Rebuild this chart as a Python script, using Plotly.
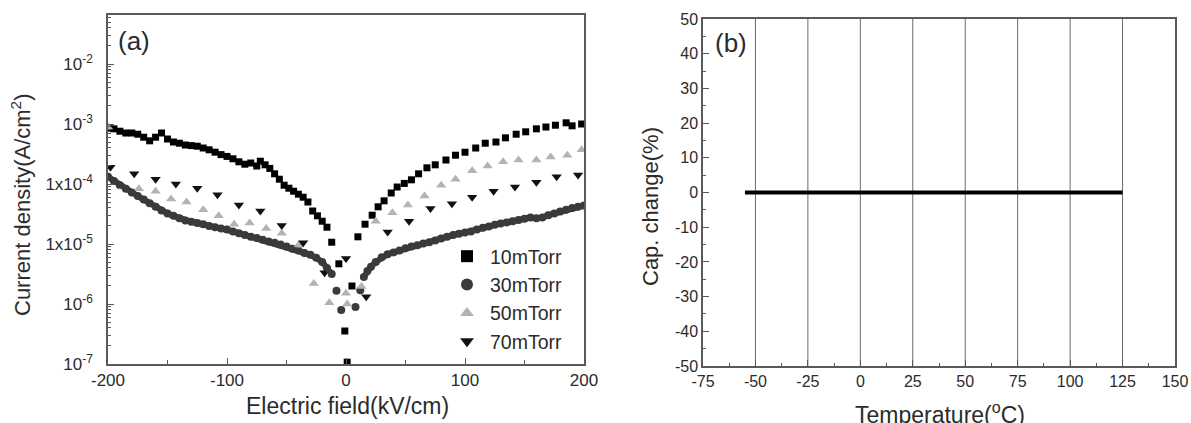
import plotly.graph_objects as go

# ---------------- Panel (a) data: electric field (kV/cm) vs log10 current density ----------------
E_10 = [-200, -195, -190, -185, -180, -175, -170, -165, -160, -155, -150, -145, -140, -135, -130,
        -125, -120, -115, -110, -105, -100, -95, -90, -85, -80, -75, -72, -68, -64, -60, -56, -52,
        -48, -44, -40, -36, -32, -28, -24, -20, -16, -12, -6, -1, 1, 5, 10, 16, 22, 27, 32, 38, 43,
        49, 55, 61, 68, 75, 84, 92, 100, 109, 117, 126, 134, 143, 151, 160, 168, 176, 185, 190, 198]
logJ_10 = [-3.07, -3.08, -3.12, -3.15, -3.15, -3.17, -3.22, -3.28, -3.22, -3.15, -3.25, -3.30, -3.32,
           -3.35, -3.36, -3.37, -3.40, -3.43, -3.47, -3.51, -3.54, -3.58, -3.63, -3.67, -3.65, -3.70,
           -3.62, -3.68, -3.74, -3.83, -3.92, -4.02, -4.07, -4.12, -4.17, -4.22, -4.30, -4.45, -4.53,
           -4.62, -4.72, -4.97, -5.33, -6.45, -6.97, -5.70, -4.88, -4.67, -4.52, -4.38, -4.28, -4.15,
           -4.05, -3.99, -3.93, -3.83, -3.73, -3.68, -3.60, -3.52, -3.47, -3.40, -3.32, -3.30, -3.23,
           -3.17, -3.13, -3.08, -3.05, -3.02, -2.98, -3.03, -3.00]

E_30 = [-200, -195, -190, -185, -180, -175, -170, -165, -160, -155, -150, -145, -140, -135, -130,
        -125, -120, -115, -110, -105, -100, -95, -90, -85, -80, -75, -70, -65, -60, -55, -50, -45,
        -40, -35, -30, -25, -20, -16, -12, -8, -4, 8, 12, 15, 18, 21, 25, 30, 35, 40, 45, 50, 55,
        60, 65, 70, 75, 80, 85, 90, 95, 100, 105, 110, 115, 120, 125, 130, 135, 140, 145, 150, 155,
        160, 165, 170, 175, 180, 185, 190, 195, 200]
logJ_30 = [-3.88, -3.95, -4.02, -4.08, -4.14, -4.20, -4.26, -4.32, -4.38, -4.44, -4.49, -4.53, -4.57,
           -4.61, -4.63, -4.65, -4.67, -4.70, -4.72, -4.74, -4.76, -4.79, -4.82, -4.85, -4.88, -4.90,
           -4.93, -4.96, -4.98, -5.01, -5.04, -5.08, -5.11, -5.15, -5.18, -5.23, -5.30, -5.40, -5.50,
           -5.78, -6.10, -6.05, -5.77, -5.55, -5.45, -5.38, -5.30, -5.22, -5.17, -5.14, -5.11, -5.07,
           -5.04, -5.02, -4.99, -4.97, -4.94, -4.91, -4.88, -4.85, -4.83, -4.81, -4.79, -4.76, -4.73,
           -4.71, -4.68, -4.66, -4.64, -4.62, -4.60, -4.58, -4.56, -4.57, -4.56, -4.52, -4.49, -4.46,
           -4.43, -4.40, -4.38, -4.36]

E_50 = [-200, -187, -174, -160, -147, -134, -120, -107, -94, -81, -67, -54, -40, -27, -14, 0, 1, 13,
        25, 39, 52, 66, 80, 92, 106, 119, 132, 145, 160, 172, 186, 198]
logJ_50 = [-3.05, -4.05, -4.08, -4.12, -4.25, -4.30, -4.43, -4.53, -4.67, -4.65, -4.74, -4.82, -5.02,
           -5.66, -5.98, -5.82, -6.00, -5.71, -4.62, -4.48, -4.35, -4.20, -4.02, -3.92, -3.78, -3.70,
           -3.63, -3.60, -3.60, -3.55, -3.52, -3.43]

E_70 = [-198, -178, -160, -143, -125, -108, -90, -72, -54, -36, -18, 0, 17, 35, 53, 71, 89, 106, 124,
        142, 160, 177, 195]
logJ_70 = [-3.72, -3.83, -3.92, -4.00, -4.07, -4.18, -4.35, -4.45, -4.69, -4.98, -5.48, -5.24, -5.88,
           -4.80, -4.62, -4.41, -4.33, -4.22, -4.12, -4.05, -3.97, -3.88, -3.85]

# ---------------- Panel (b) data ----------------
temperature = [-55, -25, 0, 25, 50, 75, 100, 125]
cap_change = [0, 0, 0, 0, 0, 0, 0, 0]

# tick labels
xa_ticks = [-200, -100, 0, 100, 200]
xa_text = ["-200", "-100", "0", "100", "200"]
ya_ticks = [1e-7, 1e-6, 1e-5, 1e-4, 1e-3, 1e-2]
ya_text = ["10<sup>-7</sup>", "10<sup>-6</sup>", "1x10<sup>-5</sup>", "1x10<sup>-4</sup>",
           "10<sup>-3</sup>", "10<sup>-2</sup>"]
xb_ticks = [-75, -50, -25, 0, 25, 50, 75, 100, 125, 150]
xb_text = ["-75", "-50", "-25", "0", "25", "50", "75", "100", "125", "150"]
yb_ticks = [-50, -40, -30, -20, -10, 0, 10, 20, 30, 40, 50]
yb_text = ["-50", "-40", "-30", "-20", "-10", "0", "10", "20", "30", "40", "50"]

FONT = "Arial, Liberation Sans, sans-serif"
TXT = "#2b2b2b"
AX = "#5a5a5a"

fig = go.Figure()

series = [
    ("10mTorr", E_10, logJ_10, "square", "#000000", 7),
    ("30mTorr", E_30, logJ_30, "circle", "#3a3a3a", 8),
    ("50mTorr", E_50, logJ_50, "triangle-up", "#b3b3b3", 9),
    ("70mTorr", E_70, logJ_70, "triangle-down", "#111111", 9),
]
for name, x, ly, sym, col, sz in series:
    fig.add_trace(go.Scatter(
        x=x, y=[10 ** v for v in ly], mode="markers", name=name,
        marker=dict(symbol=sym, color=col, size=sz, line=dict(width=0)),
        xaxis="x", yaxis="y"))

# the densely sampled 30mTorr branches appear as a continuous thick band
for sel in (lambda e: e <= -12, lambda e: e >= 15):
    xs = [e for e in E_30 if sel(e)]
    ys = [10 ** v for e, v in zip(E_30, logJ_30) if sel(e)]
    fig.add_trace(go.Scatter(x=xs, y=ys, mode="lines", showlegend=False, hoverinfo="skip",
                             line=dict(color="#3a3a3a", width=6), xaxis="x", yaxis="y"))

fig.add_trace(go.Scatter(
    x=temperature, y=cap_change, mode="lines", showlegend=False,
    line=dict(color="#000000", width=4), xaxis="x2", yaxis="y2"))

# minor tick positions for log axis
minor_vals = []
for d in range(-7, -1):
    for k in range(2, 10):
        minor_vals.append(k * 10.0 ** d)
minor_vals += [k * 1e-2 for k in range(2, 7)]

common = dict(showgrid=False, zeroline=False, showline=True, linecolor=AX, linewidth=1.5,
              mirror=True, ticks="inside", tickcolor=AX, tickwidth=1.2, automargin=False,
              tickmode="array")

fig.update_layout(
    width=1191, height=423,
    margin=dict(l=0, r=0, t=0, b=0, autoexpand=False),
    paper_bgcolor="white", plot_bgcolor="white",
    font=dict(family=FONT, color=TXT),
    xaxis=dict(domain=[108 / 1191, 584 / 1191], range=[-200, 200],
               tickvals=xa_ticks, ticktext=xa_text, ticklen=6,
               tickfont=dict(family=FONT, size=17, color=TXT),
               minor=dict(tickvals=[-150, -50, 50, 150], ticks="inside", ticklen=4,
                          tickcolor=AX, showgrid=False),
               anchor="y", **common),
    yaxis=dict(domain=[(423 - 364) / 423, (423 - 15) / 423], type="log", range=[-7, -1.183],
               tickvals=ya_ticks, ticktext=ya_text, ticklen=6, ticklabelstandoff=10,
               tickfont=dict(family=FONT, size=17, color=TXT),
               minor=dict(tickvals=minor_vals, ticks="inside", ticklen=3,
                          tickcolor=AX, showgrid=False),
               anchor="x", **common),
    xaxis2=dict(domain=[703 / 1191, 1175 / 1191], range=[-75, 150],
                tickvals=xb_ticks, ticktext=xb_text, ticklen=6,
                tickfont=dict(family=FONT, size=16, color=TXT),
                minor=dict(tickvals=[-62.5, -37.5, -12.5, 12.5, 37.5, 62.5, 87.5, 112.5, 137.5],
                           ticks="inside", ticklen=3, tickcolor=AX, showgrid=False),
                anchor="y2", **common),
    yaxis2=dict(domain=[(423 - 366) / 423, (423 - 19) / 423], range=[-50, 50],
                tickvals=yb_ticks, ticktext=yb_text, ticklen=6,
                tickfont=dict(family=FONT, size=16, color=TXT),
                minor=dict(tickvals=list(range(-45, 50, 10)), ticks="inside", ticklen=3,
                           tickcolor=AX, showgrid=False),
                anchor="x2", **common),
    legend=dict(x=444 / 1191, y=(423 - 237) / 423, xanchor="left", yanchor="top",
                bgcolor="rgba(0,0,0,0)", font=dict(family=FONT, size=19.5, color=TXT),
                tracegroupgap=0, itemsizing="constant", itemwidth=36),
    showlegend=True,
)

# vertical grid lines in panel (b) at temperature ticks
for t in xb_ticks[1:-1]:
    fig.add_shape(type="line", xref="x2", yref="y2", x0=t, x1=t, y0=-50, y1=50,
                  line=dict(color="#6a6a6a", width=1), layer="below")

ann = [
    dict(text="(a)", x=116 / 1191, y=(423 - 41) / 423, xanchor="left", yanchor="middle", size=26),
    dict(text="(b)", x=713 / 1191, y=(423 - 43) / 423, xanchor="left", yanchor="middle", size=26),
    dict(text="Electric field(kV/cm)", x=347 / 1191, y=(423 - 406) / 423, xanchor="center",
         yanchor="middle", size=23),
    dict(text="Temperature(<sup>o</sup>C)", x=940 / 1191, y=(423 - 413) / 423, xanchor="center",
         yanchor="middle", size=23),
]
for a in ann:
    fig.add_annotation(text=a["text"], x=a["x"], y=a["y"], xref="paper", yref="paper",
                       xanchor=a["xanchor"], yanchor=a["yanchor"], showarrow=False,
                       font=dict(family=FONT, size=a["size"], color=TXT))

fig.add_annotation(text="Current density(A/cm<sup>2</sup>)", x=21 / 1191, y=(423 - 205) / 423,
                   xref="paper", yref="paper", textangle=-90, showarrow=False,
                   xanchor="center", yanchor="middle", font=dict(family=FONT, size=22, color=TXT))
fig.add_annotation(text="Cap. change(%)", x=650 / 1191, y=(423 - 207) / 423,
                   xref="paper", yref="paper", textangle=-90, showarrow=False,
                   xanchor="center", yanchor="middle", font=dict(family=FONT, size=22, color=TXT))

fig.write_html("out.html")
